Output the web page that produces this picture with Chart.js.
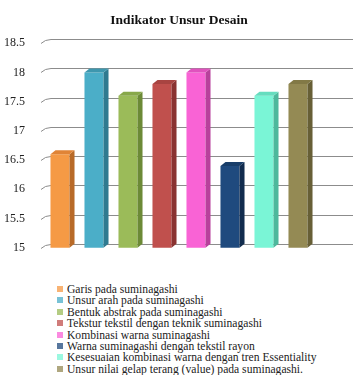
<!DOCTYPE html>
<html>
<head>
<meta charset="utf-8">
<script src="https://cdn.jsdelivr.net/npm/chart.js@4"></script>
<style>
  body { margin: 0; background: #fff; }
  #wrap { position: relative; width: 353px; height: 265px; }
  #legend { margin: 19px 0 0 57px; padding: 0; list-style: none;
            font: 11.6px "Liberation Serif", "DejaVu Serif", serif; color: #222; }
  #legend li { height: 11.4px; line-height: 11.4px; white-space: nowrap; }
  #legend span { display: inline-block; width: 6px; height: 6px; margin-right: 4px; vertical-align: 1px; }
</style>
</head>
<body>
<div id="wrap"><canvas id="chart"></canvas></div>
<ul id="legend"></ul>
<script>
// data
const categories = [
  'Garis pada suminagashi',
  'Unsur arah pada suminagashi',
  'Bentuk abstrak pada suminagashi',
  'Tekstur tekstil dengan teknik suminagashi',
  'Kombinasi warna suminagashi',
  'Warna suminagashi dengan tekstil rayon',
  'Kesesuaian kombinasi warna dengan tren Essentiality',
  'Unsur nilai gelap terang (value) pada suminagashi.'
];
const values = [16.6, 18.0, 17.6, 17.8, 18.0, 16.4, 17.6, 17.8];
const yTicks = [15, 15.5, 16, 16.5, 17, 17.5, 18, 18.5];

const colors = ['#F59A45', '#4BAEC8', '#9BBB59', '#C0504D', '#F963D5', '#1F4A7E', '#7AF5D6', '#948A54'];
const sideColors = ['#B86A28', '#2F7A90', '#6C8A36', '#8A3331', '#B8409C', '#112C4E', '#4DB89C', '#675F36'];
const topColors = ['#E08436', '#3E97AE', '#88A84A', '#A84441', '#E052BE', '#183D69', '#66DDBF', '#827946'];

const serif = '"Liberation Serif", "DejaVu Serif", serif';
const DX = 5, DY = 4;

// back wall gridlines with the little perspective stub on the left
const wallGrid = {
  id: 'wallGrid',
  beforeDatasetsDraw(chart) {
    const { ctx, chartArea, scales } = chart;
    ctx.save();
    ctx.strokeStyle = '#8c8c8c';
    ctx.lineWidth = 1;
    yTicks.forEach(v => {
      const y = Math.round(scales.y.getPixelForValue(v)) + 0.5;
      ctx.beginPath();
      ctx.moveTo(chartArea.left - 2, y);
      ctx.quadraticCurveTo(chartArea.left + 2, y - DY, chartArea.left + 8, y - DY);
      ctx.lineTo(chart.width, y - DY);
      ctx.stroke();
    });
    ctx.restore();
  }
};

// fake 3D: side and top faces of every bar
const bar3d = {
  id: 'bar3d',
  afterDatasetsDraw(chart) {
    const { ctx, chartArea } = chart;
    const meta = chart.getDatasetMeta(0);
    ctx.save();
    meta.data.forEach((bar, i) => {
      const { x, y, base, width } = bar.getProps(['x', 'y', 'base', 'width'], true);
      const b = Math.min(base, chartArea.bottom);
      const l = x - width / 2, r = x + width / 2;
      ctx.fillStyle = sideColors[i];
      ctx.beginPath();
      ctx.moveTo(r, y);
      ctx.lineTo(r + DX, y - DY);
      ctx.lineTo(r + DX, b - DY);
      ctx.lineTo(r, b);
      ctx.closePath();
      ctx.fill();
      ctx.fillStyle = topColors[i];
      ctx.beginPath();
      ctx.moveTo(l, y);
      ctx.lineTo(l + DX, y - DY);
      ctx.lineTo(r + DX, y - DY);
      ctx.lineTo(r, y);
      ctx.closePath();
      ctx.fill();
    });
    ctx.restore();
  }
};

new Chart(document.getElementById('chart'), {
  type: 'bar',
  data: {
    labels: categories,
    datasets: [{
      data: values,
      backgroundColor: colors,
      borderWidth: 0,
      categoryPercentage: 1,
      barPercentage: 0.56
    }]
  },
  options: {
    responsive: true,
    maintainAspectRatio: false,
    animation: false,
    layout: { padding: { right: 38, bottom: 6 } },
    plugins: {
      legend: { display: false },
      tooltip: { enabled: false },
      title: {
        display: true,
        fullSize: false,
        text: 'Indikator Unsur Desain',
        color: '#111',
        font: { family: serif, size: 13.5, weight: 'bold' },
        padding: { top: 12, bottom: 15 }
      }
    },
    scales: {
      x: { display: false },
      y: {
        min: 15, max: 18.5,
        afterBuildTicks(scale) { scale.ticks = yTicks.map(v => ({ value: v })); },
        afterFit(scale) { scale.width = 43; },
        grid: { display: false },
        border: { display: false },
        ticks: {
          padding: 10,
          color: '#222',
          font: { family: serif, size: 12 },
          callback: v => String(v)
        }
      }
    }
  },
  plugins: [wallGrid, bar3d]
});

const legend = document.getElementById('legend');
categories.forEach((c, i) => {
  const li = document.createElement('li');
  const box = document.createElement('span');
  box.style.background = colors[i];
  box.style.opacity = 0.75;
  li.appendChild(box);
  li.appendChild(document.createTextNode(c));
  legend.appendChild(li);
});
</script>
</body>
</html>
